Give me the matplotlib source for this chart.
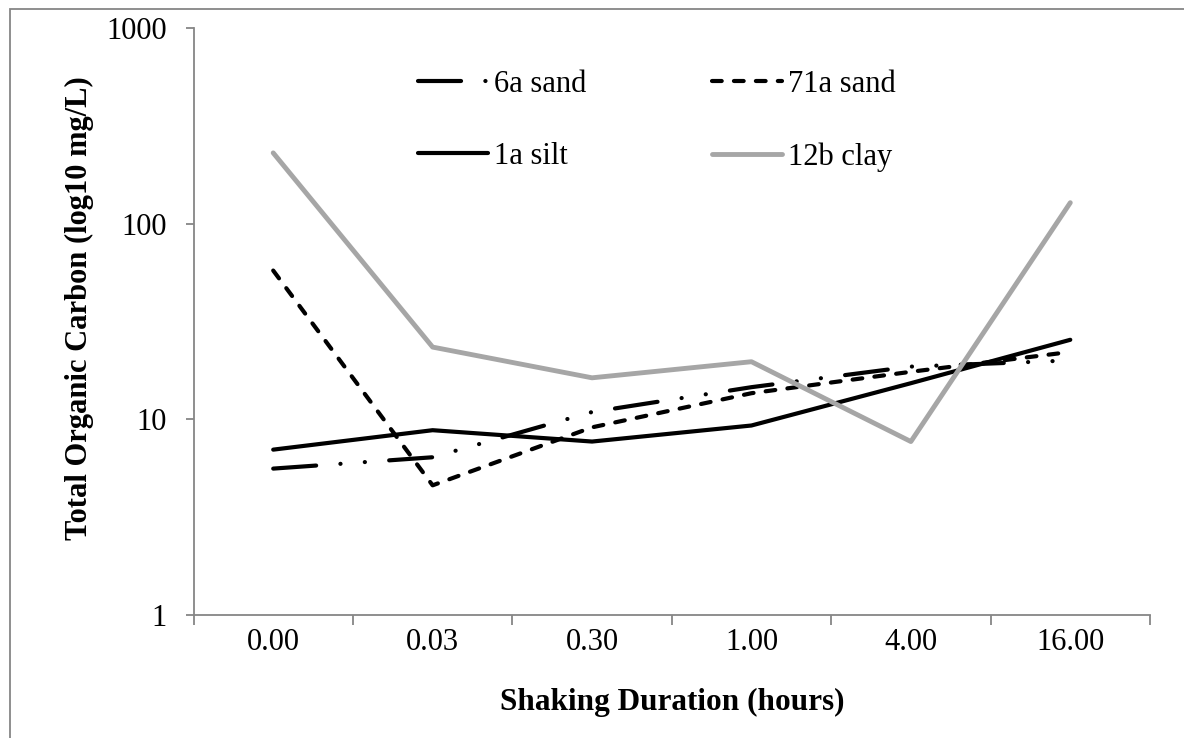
import matplotlib
matplotlib.use("Agg")
import matplotlib.pyplot as plt
import matplotlib.ticker as mticker
from matplotlib.patches import Rectangle
import numpy as np

# Shaking durations (hours) used as categories
durations = ["0.00", "0.03", "0.30", "1.00", "4.00", "16.00"]

# Total organic carbon (mg/L) per sample
sand_6a = [5.6, 6.4, 10.9, 14.6, 18.6, 20.0]
sand_71a = [57.6, 4.6, 9.1, 13.6, 17.5, 22.1]
silt_1a = [7.0, 8.8, 7.7, 9.3, 15.3, 25.5]
clay_12b = [230, 23.4, 16.3, 19.7, 7.7, 128]

series_names = ["6a sand", "71a sand", "1a silt", "12b clay"]
y_ticks = [1, 10, 100, 1000]

plt.rcParams["font.family"] = ["Liberation Serif", "DejaVu Serif"]
plt.rcParams["font.size"] = 22
plt.rcParams["lines.scale_dashes"] = False

W, H = 1184, 738
fig = plt.figure(figsize=(W / 100, H / 100), dpi=100)
ax = fig.add_axes([193.5 / W, 1 - 615 / H, (1150 - 193.5) / W, (615 - 28) / H])

x = np.arange(len(durations))
common = dict(solid_capstyle="round", dash_capstyle="round",
              solid_joinstyle="round", dash_joinstyle="round")
black_lw = 3.0
l6a, = ax.plot(x, sand_6a, color="black", lw=black_lw,
               linestyle=(0, (31, 17.5, 0.1, 17.5, 0.1, 17.5)),
               label=series_names[0], **common)
l71a, = ax.plot(x, sand_71a, color="black", lw=black_lw,
                linestyle=(0, (7, 8.8)), label=series_names[1], **common)
l1a, = ax.plot(x, silt_1a, color="black", lw=black_lw,
               label=series_names[2], **common)
l12b, = ax.plot(x, clay_12b, color="#A6A6A6", lw=3.5,
                label=series_names[3], **common)

ax.set_yscale("log")
ax.set_ylim(1, 1000)
ax.yaxis.set_major_locator(mticker.FixedLocator(y_ticks))
ax.yaxis.set_major_formatter(mticker.FuncFormatter(lambda v, p: f"{v:g}"))
ax.yaxis.set_minor_locator(mticker.NullLocator())

ax.set_xlim(-0.5, len(durations) - 0.5)
ax.set_xticks(np.arange(-0.5, len(durations), 1.0))
ax.set_xticklabels([])
ax.set_xticks(x, minor=True)
ax.set_xticklabels(durations, minor=True)

axis_grey = "#868686"
for side in ("top", "right"):
    ax.spines[side].set_visible(False)
for side in ("left", "bottom"):
    ax.spines[side].set_color(axis_grey)
    ax.spines[side].set_linewidth(1.3)

ax.tick_params(axis="y", which="major", direction="out", length=6,
               width=1.3, color=axis_grey, pad=13, labelcolor="black")
ax.tick_params(axis="x", which="major", direction="out", length=7,
               width=1.3, color=axis_grey)
ax.tick_params(axis="x", which="minor", length=0, pad=9,
               labelcolor="black")

ax.set_xlabel("Shaking Duration (hours)", fontweight="bold", fontsize=22.5)
ax.xaxis.set_label_coords(0.5, -0.124)
fig.text(79 / W, 1 - 308 / H, "Total Organic Carbon (log10 mg/L)",
         ha="center", va="center", rotation=90, fontweight="bold",
         fontsize=22)

leg = fig.legend([l6a, l1a, l71a, l12b],
                 [series_names[0], series_names[2], series_names[1],
                  series_names[3]],
                 ncol=2, frameon=False, loc="upper left",
                 bbox_to_anchor=(418 / W, 1 - 70 / H),
                 handlelength=2.3, handletextpad=0.2, columnspacing=4.1,
                 labelspacing=1.41, borderpad=0, borderaxespad=0,
                 fontsize=22)

fig.add_artist(Rectangle((9.5 / W, -0.1), 1.2, 1 - 9.5 / H + 0.1,
                         transform=fig.transFigure, fill=False,
                         edgecolor=axis_grey, lw=1.3, clip_on=False))

fig.savefig("out.png", dpi=100)
